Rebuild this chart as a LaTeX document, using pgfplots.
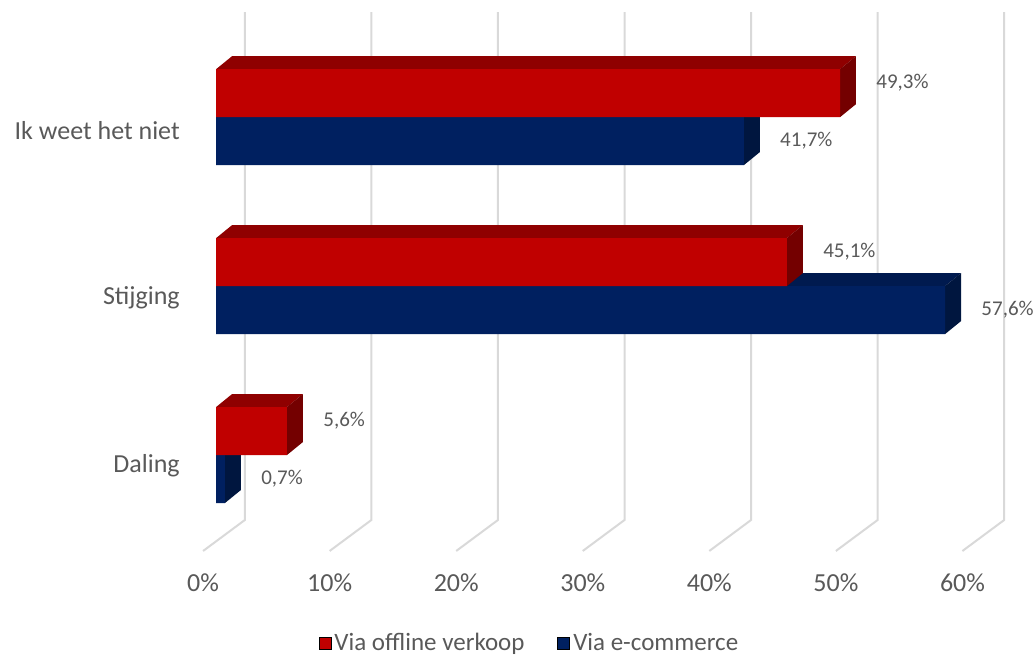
\documentclass[border=0pt]{standalone}
\usepackage{pgfplots}
\pgfplotsset{compat=1.18}
\usepackage{fontspec}
\setmainfont{Carlito}
\definecolor{redF}{HTML}{C00000}
\definecolor{redT}{HTML}{8F0000}
\definecolor{redS}{HTML}{740000}
\definecolor{bluF}{HTML}{002060}
\definecolor{bluT}{HTML}{001A4F}
\definecolor{bluS}{HTML}{00163F}
\definecolor{txtg}{HTML}{595959}
\definecolor{gridc}{HTML}{D9D9D9}
% value, y centre, top colour, side colour
\newcommand{\barfaces}[4]{%
  \pgfmathsetmacro\xe{#1+1.26}%
  \pgfmathsetmacro\yt{#2+24}%
  \pgfmathsetmacro\ytb{#2+24+13}%
  \pgfmathsetmacro\yb{#2-24}%
  \pgfmathsetmacro\ybb{#2-24+13}%
  \addplot[fill=#3, draw=none, forget plot] coordinates {(0,\yt) (1.26,\ytb) (\xe,\ytb) (#1,\yt) (0,\yt)};
  \addplot[fill=#4, draw=none, forget plot] coordinates {(#1,\yt) (\xe,\ytb) (\xe,\ybb) (#1,\yb) (#1,\yt)};
}
\pgfplotsset{
  barlabels/.style={
    nodes near coords={\pgfmathprintnumber[fixed, fixed zerofill, precision=1, use comma]{\pgfplotspointmeta}\%},
    point meta=x,
    every node near coord/.append style={font=\fontsize{10.5}{12}\selectfont, text=txtg, anchor=west, inner sep=0pt, xshift=18pt},
  }
}
\begin{document}
\begin{tikzpicture}
\begin{axis}[
  scale only axis, width=517.5pt, height=328.5pt,
  xmin=-17.06, xmax=64.69, ymin=0, ymax=657,
  axis line style={draw=none}, major tick length=0pt,
  clip=false,
  /pgf/number format/assume math mode=true,
  xtick={0,10,...,60},
  xticklabel={\pgfmathprintnumber{\tick}\%},
  xticklabel style={anchor=center, xshift=-6.5pt, yshift=37pt, font=\fontsize{13}{15}\selectfont, text=txtg},
  ytick={527,359,191},
  yticklabels={Ik weet het niet, Stijging, Daling},
  yticklabel style={anchor=east, inner sep=0pt, xshift=90pt, font=\fontsize{13}{15}\selectfont, text=txtg},
  legend style={at={(0.512,0.0213)}, anchor=center, draw=none, fill=none,
    legend columns=2, font=\fontsize{12.5}{14}\selectfont, text=txtg,
    /tikz/every even column/.append style={column sep=15pt},
    nodes={inner sep=1.5pt}},
  legend image code/.code={\fill[#1] (0pt,-3pt) rectangle (6pt,3pt);},
]
\addlegendimage{fill=redF}
\addlegendentry{Via offline verkoop}
\addlegendimage{fill=bluF}
\addlegendentry{Via e-commerce}

% grid (back wall and floor)
\pgfplotsinvokeforeach{0,10,20,30,40,50,60}{
  \draw[gridc, line width=1pt] (axis cs:{#1+2.27},645) -- (axis cs:{#1+2.27},137) -- (axis cs:{#1-1.03},106);
}

% Via e-commerce
\barfaces{41.7}{516}{bluT}{bluS}
\barfaces{57.6}{347}{bluT}{bluS}
\barfaces{0.7}{178}{bluT}{bluS}
\addplot[xbar, bar width=48, bar shift=0pt, fill=bluF, draw=none, forget plot, barlabels]
  coordinates {(41.7,516) (57.6,347) (0.7,178)};

% Via offline verkoop
\barfaces{49.3}{564}{redT}{redS}
\barfaces{45.1}{395}{redT}{redS}
\barfaces{5.6}{226}{redT}{redS}
\addplot[xbar, bar width=48, bar shift=0pt, fill=redF, draw=none, forget plot, barlabels,
  every node near coord/.append style={yshift=5pt}]
  coordinates {(49.3,564) (45.1,395) (5.6,226)};
\end{axis}
\end{tikzpicture}
\end{document}
